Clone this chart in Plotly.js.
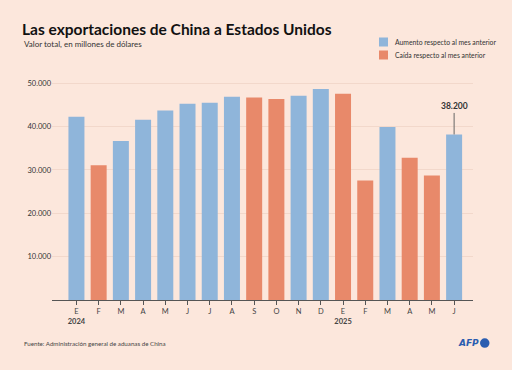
<!DOCTYPE html>
<html>
<head>
<meta charset="utf-8">
<script src="https://cdn.plot.ly/plotly-3.0.1.min.js"></script>
<style>
  html, body { margin: 0; padding: 0; background: #fce7dc; }
  #chart { width: 512px; height: 370px; }
</style>
</head>
<body>
<div id="chart"></div>
<script>
// Months (Jan 2024 – Jun 2025)
const meses = ["E", "F", "M", "A", "M", "J", "J", "A", "S", "O", "N", "D", "E", "F", "M", "A", "M", "J"];
const anios = ["2024", "", "", "", "", "", "", "", "", "", "", "", "2025", "", "", "", "", ""];
// Exports, millions of USD
const valores = [42300, 31100, 36700, 41600, 43700, 45300, 45500, 46900, 46700, 46400, 47100, 48700, 47600, 27600, 39900, 32800, 28700, 38200];
// Change vs previous month as shown in the chart: "up" / "down"
const cambio = ["up", "down", "up", "up", "up", "up", "up", "up", "down", "down", "up", "up", "down", "down", "up", "down", "down", "up"];
const ticksY = [10000, 20000, 30000, 40000, 50000];
const ticksYText = ["10.000", "20.000", "30.000", "40.000", "50.000"];
const leyenda = ["Aumento respecto al mes anterior", "Caída respecto al mes anterior"];

const idx = meses.map((_, i) => i);
const tickText = meses.map((m, i) => anios[i] ? m + "<br><b>" + anios[i] + "</b>" : m);

const BLUE = "#8fb5da";
const ORANGE = "#e8896a";
const BG = "#fce7dc";
const FONT = "Lato, 'Noto Sans', sans-serif";

// Plot area geometry (pixels)
const W = 512, H = 370, ML = 52, MR = 39, MT = 80, MB = 70;
const PW = W - ML - MR, PH = H - MT - MB;
const px = x => (x - ML) / PW;          // figure px -> paper x
const py = y => (H - MB - y) / PH;      // figure px -> paper y

const traceUp = {
  type: "bar",
  x: idx,
  y: valores.map((v, i) => cambio[i] === "up" ? v : null),
  name: leyenda[0],
  marker: { color: BLUE },
  hoverinfo: "skip",
  showlegend: false
};
const traceDown = {
  type: "bar",
  x: idx,
  y: valores.map((v, i) => cambio[i] === "down" ? v : null),
  name: leyenda[1],
  marker: { color: ORANGE },
  hoverinfo: "skip",
  showlegend: false
};

const last = valores.length - 1;

const layout = {
  width: W,
  height: H,
  paper_bgcolor: BG,
  plot_bgcolor: BG,
  font: { family: FONT, color: "#333" },
  margin: { l: ML, r: MR, t: MT, b: MB },
  barmode: "overlay",
  bargap: 0.28,
  showlegend: false,
  title: {
    text: "<b>Las exportaciones de China a Estados Unidos</b>",
    x: 22 / W, xanchor: "left", xref: "container",
    y: 1 - 30 / H, yanchor: "middle", yref: "container",
    font: { size: 15.5, color: "#111", family: FONT }
  },
  xaxis: {
    tickmode: "array",
    tickvals: idx,
    ticktext: tickText,
    range: [-1.1, 17.85],
    showgrid: false,
    zeroline: false,
    showline: true,
    linecolor: "#555",
    linewidth: 1,
    ticks: "outside",
    ticklen: 4,
    tickcolor: "#555",
    tickfont: { size: 7.5, color: "#444" },
    fixedrange: true
  },
  yaxis: {
    range: [0, 50760],
    tickmode: "array",
    tickvals: ticksY,
    ticktext: ticksYText,
    showgrid: true,
    gridcolor: "#f2d8cb",
    gridwidth: 1,
    zeroline: false,
    showline: false,
    ticks: "",
    tickfont: { size: 7.5, color: "#333" },
    fixedrange: true
  },
  annotations: [
    {
      xref: "paper", yref: "paper",
      x: px(22), y: py(44),
      xanchor: "left", yanchor: "middle",
      text: "Valor total, en millones de dólares",
      showarrow: false,
      font: { size: 8, color: "#333" }
    },
    {
      x: last, y: valores[last],
      xref: "x", yref: "y",
      text: "<b>" + valores[last].toLocaleString("de-DE") + "</b>",
      showarrow: true,
      arrowhead: 0,
      arrowwidth: 1,
      arrowcolor: "#666",
      ax: 0, ay: -28,
      standoff: 0,
      font: { size: 8.5, color: "#333" }
    },
    {
      xref: "paper", yref: "paper",
      x: px(393), y: py(42),
      xanchor: "left", yanchor: "middle",
      text: leyenda[0],
      showarrow: false,
      font: { size: 6.8, color: "#333" }
    },
    {
      xref: "paper", yref: "paper",
      x: px(393), y: py(55),
      xanchor: "left", yanchor: "middle",
      text: leyenda[1],
      showarrow: false,
      font: { size: 6.8, color: "#333" }
    },
    {
      xref: "paper", yref: "paper",
      x: px(22), y: py(343),
      xanchor: "left", yanchor: "middle",
      text: "Fuente: Administración general de aduanas de China",
      showarrow: false,
      font: { size: 6.2, color: "#444" }
    },
    {
      xref: "paper", yref: "paper",
      x: px(480.5), y: py(343),
      xanchor: "right", yanchor: "middle",
      text: "<b><i>AFP</i></b>",
      showarrow: false,
      font: { size: 9, color: "#2a5db0", family: "'DejaVu Sans', sans-serif" }
    }
  ],
  shapes: [
    {
      type: "rect", xref: "paper", yref: "paper",
      x0: px(379), x1: px(388), y0: py(46.5), y1: py(37.5),
      fillcolor: BLUE, line: { width: 0 }
    },
    {
      type: "rect", xref: "paper", yref: "paper",
      x0: px(379), x1: px(388), y0: py(59.5), y1: py(50.5),
      fillcolor: ORANGE, line: { width: 0 }
    },
    {
      type: "circle",
      xref: "paper", yref: "paper",
      x0: px(480), x1: px(489.5),
      y0: py(347.8), y1: py(338.3),
      fillcolor: "#2a5db0",
      line: { width: 0 }
    }
  ]
};

Plotly.newPlot("chart", [traceUp, traceDown], layout, { displayModeBar: false, staticPlot: true });
</script>
</body>
</html>
